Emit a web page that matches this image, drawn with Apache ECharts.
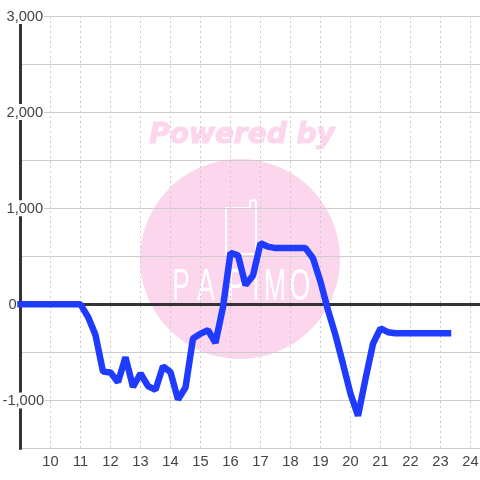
<!DOCTYPE html>
<html><head><meta charset="utf-8">
<style>html,body{margin:0;padding:0;background:#fff}#c{width:480px;height:480px}</style>
<script src="https://cdn.jsdelivr.net/npm/echarts@6/dist/echarts.min.js"></script>
</head><body><div id="c"></div>
<script>
const hours = [9,9.25,9.5,9.75,10,10.25,10.5,10.75,11,11.25,11.5,11.75,12,12.25,12.5,12.75,13,13.25,13.5,13.75,14,14.25,14.5,14.75,15,15.25,15.5,15.75,16,16.25,16.5,16.75,17,17.25,17.5,17.75,18,18.25,18.5,18.75,19,19.25,19.5,19.75,20,20.25,20.5,20.75,21,21.25,21.5,21.75,22,22.25,22.5,22.75,23,23.25];
const values = [0,0,0,0,0,0,0,0,0,-130,-320,-700,-710,-810,-550,-860,-720,-850,-890,-645,-705,-990,-865,-355,-305,-270,-400,-28,535,510,200,300,635,600,585,585,585,585,585,480,235,-60,-320,-620,-930,-1160,-775,-410,-250,-290,-300,-300,-300,-300,-300,-300,-300,-300];
const yLabels = {'3000':'3,000','2000':'2,000','1000':'1,000','0':'0','-1000':'-1,000'};
const logoLetters = ['P','A','P','I','M','O'];
const logoCenters = [181,206,236,256,275,300];
const font = '"Liberation Sans",Arial,sans-serif';
const pink = '#fcd6ec';
const chart = echarts.init(document.getElementById('c'), null, {renderer:'canvas'});
const labelBox = (left) => ({color:'#444',fontSize:14.67,fontFamily:font,backgroundColor:'#fff',padding:[2,1,0,left],height:14});
chart.setOption({
  animation:false,
  backgroundColor:'#fff',
  textStyle:{fontFamily:font},
  graphic:[
    {type:'circle',z:-10,shape:{cx:240,cy:259,r:100},style:{fill:pink}},
    {type:'text',z:-10,x:242,y:136,style:{text:'Powered by',fill:pink,stroke:pink,lineWidth:1.1,font:'italic bold 28px "DejaVu Sans"',align:'center',verticalAlign:'middle'}},
    {type:'polygon',z:-9,shape:{points:[[226,208],[250,208],[250,201],[255,200],[256,202],[256,254],[226,254]]},style:{fill:'none',stroke:'#fff',lineWidth:2}}
  ].concat(logoLetters.map((l,i)=>({
    type:'text',z:-9,x:logoCenters[i],y:288,scaleX:0.6,
    style:{text:l,fill:'#fff',font:'44px "Liberation Sans"',align:'center',verticalAlign:'middle'}
  }))),
  grid:{left:20.5,right:0,top:16,bottom:31.5,containLabel:false,outerBoundsMode:'none'},
  xAxis:[{
    type:'value',min:9,max:24.3167,interval:1,position:'bottom',
    axisLine:{onZero:false,show:true,lineStyle:{color:'#ccc',width:1}},
    axisTick:{show:false},
    axisLabel:{color:'#444',fontSize:14.67,margin:6,hideOverlap:false,showMaxLabel:false,
      formatter:v=>v===9?'':String(v)},
    splitLine:{show:true,lineStyle:{color:'#ccc',type:[2,3],width:1}}
  },{
    type:'value',min:9,max:24.3167,interval:1,position:'bottom',z:6,
    axisLine:{onZero:true,show:true,lineStyle:{color:'#333',width:3}},
    axisTick:{show:false},axisLabel:{show:false},splitLine:{show:false}
  }],
  yAxis:{
    type:'value',min:-1500,max:3000,interval:500,z:5,
    axisLine:{show:true,onZero:false,lineStyle:{color:'#333',width:3}},
    axisTick:{show:false},
    splitLine:{show:true,lineStyle:{color:'#ccc',width:1}},
    axisLabel:{inside:true,margin:-18,align:'left',color:'#444',fontSize:14.67,showMinLabel:true,showMaxLabel:true,
      formatter:v=>{const s=yLabels[String(v)];if(!s)return '';return v<0?'{n|'+s+'}':v===0?'{z|'+s+'}':'{p|'+s+'}';},
      rich:{n:labelBox(0),p:labelBox(4),z:labelBox(6)}}
  },
  series:[{
    type:'line',xAxisIndex:0,z:10,
    data:hours.map((h,i)=>[h,values[i]]),
    showSymbol:false,symbol:'none',smooth:false,clip:false,
    lineStyle:{color:'#1f3bff',width:6.5,cap:'square',join:'bevel'}
  }]
});
</script></body></html>
